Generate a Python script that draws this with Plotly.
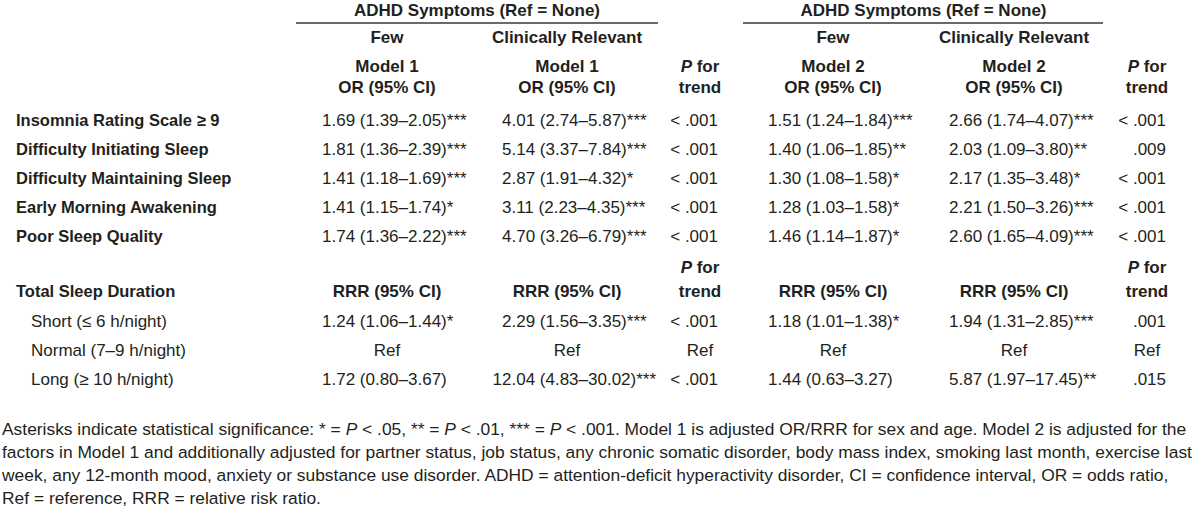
import plotly.graph_objects as go

# ---------------- data ----------------
group_title = "ADHD Symptoms (Ref = None)"
sub_groups = ["Few", "Clinically Relevant", "Few", "Clinically Relevant"]
models = ["Model 1", "Model 1", "Model 2", "Model 2"]
or_header = "OR (95% CI)"
rrr_header = "RRR (95% CI)"

symptom_labels = ["Insomnia Rating Scale ≥ 9", "Difficulty Initiating Sleep",
                  "Difficulty Maintaining Sleep", "Early Morning Awakening",
                  "Poor Sleep Quality"]
few_m1 = ["1.69 (1.39–2.05)***", "1.81 (1.36–2.39)***", "1.41 (1.18–1.69)***",
          "1.41 (1.15–1.74)*", "1.74 (1.36–2.22)***"]
cr_m1 = ["4.01 (2.74–5.87)***", "5.14 (3.37–7.84)***", "2.87 (1.91–4.32)*",
         "3.11 (2.23–4.35)***", "4.70 (3.26–6.79)***"]
p_m1 = ["< .001", "< .001", "< .001", "< .001", "< .001"]
few_m2 = ["1.51 (1.24–1.84)***", "1.40 (1.06–1.85)**", "1.30 (1.08–1.58)*",
          "1.28 (1.03–1.58)*", "1.46 (1.14–1.87)*"]
cr_m2 = ["2.66 (1.74–4.07)***", "2.03 (1.09–3.80)**", "2.17 (1.35–3.48)*",
         "2.21 (1.50–3.26)***", "2.60 (1.65–4.09)***"]
p_m2 = ["< .001", ".009", "< .001", "< .001", "< .001"]

duration_title = "Total Sleep Duration"
duration_labels = ["Short (≤ 6 h/night)", "Normal (7–9 h/night)", "Long (≥ 10 h/night)"]
dur_few_m1 = ["1.24 (1.06–1.44)*", "Ref", "1.72 (0.80–3.67)"]
dur_cr_m1 = ["2.29 (1.56–3.35)***", "Ref", "12.04 (4.83–30.02)***"]
dur_p_m1 = ["< .001", "Ref", "< .001"]
dur_few_m2 = ["1.18 (1.01–1.38)*", "Ref", "1.44 (0.63–3.27)"]
dur_cr_m2 = ["1.94 (1.31–2.85)***", "Ref", "5.87 (1.97–17.45)**"]
dur_p_m2 = [".001", "Ref", ".015"]

footnote_lines = [
    "Asterisks indicate statistical significance: * = <i>P</i> < .05, ** = <i>P</i> < .01, *** = <i>P</i> < .001. Model 1 is adjusted OR/RRR for sex and age. Model 2 is adjusted for the",
    "factors in Model 1 and additionally adjusted for partner status, job status, any chronic somatic disorder, body mass index, smoking last month, exercise last",
    "week, any 12-month mood, anxiety or substance use disorder. ADHD = attention-deficit hyperactivity disorder, CI = confidence interval, OR = odds ratio,",
    "Ref = reference, RRR = relative risk ratio.",
]

# ---------------- layout constants ----------------
W, H = 1200, 511
FONT = "Liberation Sans, Arial, sans-serif"
INK = "#231f20"
FS = 17
DIGIT_W = 9.45

col_centers = [387, 567, 833, 1014]
p_centers = [700, 1147]
p_rights = [718, 1166]
label_x = 16
indent_x = 31

y_group, y_sub, y_model, y_or = 12, 39, 68, 89
y_rows = [122, 151, 180, 209, 238]
y_pfor2, y_dur = 269, 293
y_dur_rows = [323, 352, 381]
y_foot = [431, 454, 477, 500]

fig = go.Figure()


def add_text(xs, ys, texts, positions, bold=False, size=FS):
    fig.add_trace(go.Scatter(
        x=xs, y=ys, text=texts, mode="text", textposition=positions,
        textfont=dict(family=FONT, size=size, color=INK,
                      weight="bold" if bold else "normal"),
        hoverinfo="skip", showlegend=False, cliponaxis=False))


# header: group titles
add_text([sum(col_centers[0:2]) / 2 - 0, sum(col_centers[2:4]) / 2], [y_group, y_group],
         [group_title, group_title], "middle center", bold=True)
# sub groups, models, OR header
add_text(col_centers, [y_sub] * 4, sub_groups, "middle center", bold=True)
add_text(col_centers, [y_model] * 4, models, "middle center", bold=True)
add_text(col_centers, [y_or] * 4, [or_header] * 4, "middle center", bold=True)
# P for trend headers
for yy_p, yy_t in [(y_model, y_or), (y_pfor2, y_dur)]:
    add_text(p_centers, [yy_p] * 2, ["<i>P</i> for"] * 2, "middle center", bold=True)
    add_text(p_centers, [yy_t] * 2, ["trend"] * 2, "middle center", bold=True)

# row labels
add_text([label_x] * len(symptom_labels), y_rows, symptom_labels, "middle right", bold=True, size=16.5)
add_text([label_x], [y_dur], [duration_title], "middle right", bold=True, size=16.5)
add_text([indent_x] * len(duration_labels), y_dur_rows, duration_labels, "middle right")
add_text(col_centers, [y_dur] * 4, [rrr_header] * 4, "middle center", bold=True)


def value_column(center, values, ys):
    xs, pos = [], []
    for v in values:
        if v == "Ref":
            xs.append(center)
            pos.append("middle center")
        else:
            int_digits = len(v.split(".")[0])
            xs.append(center - 65 - (int_digits - 1) * DIGIT_W)
            pos.append("middle right")
    add_text(xs, ys, values, pos)


def p_column(center, right, values, ys):
    xs, pos = [], []
    for v in values:
        if v == "Ref":
            xs.append(center)
            pos.append("middle center")
        else:
            xs.append(right)
            pos.append("middle left")
    add_text(xs, ys, values, pos)


for c, vals in zip(col_centers, [few_m1, cr_m1, few_m2, cr_m2]):
    value_column(c, vals, y_rows)
for c, vals in zip(col_centers, [dur_few_m1, dur_cr_m1, dur_few_m2, dur_cr_m2]):
    value_column(c, vals, y_dur_rows)
p_column(p_centers[0], p_rights[0], p_m1, y_rows)
p_column(p_centers[1], p_rights[1], p_m2, y_rows)
p_column(p_centers[0], p_rights[0], dur_p_m1, y_dur_rows)
p_column(p_centers[1], p_rights[1], dur_p_m2, y_dur_rows)

# footnote
add_text([2] * len(footnote_lines), y_foot, footnote_lines, "middle right", size=17.4)

# rules under group titles
for x0, x1 in [(296, 658), (743, 1103)]:
    fig.add_shape(type="line", x0=x0, x1=x1, y0=23, y1=23, xref="x", yref="y",
                  line=dict(color="#3a3a3a", width=1.5))

fig.update_layout(
    width=W, height=H, margin=dict(l=0, r=0, t=0, b=0),
    paper_bgcolor="white", plot_bgcolor="white",
    xaxis=dict(range=[0, W], visible=False, fixedrange=True),
    yaxis=dict(range=[H, 0], visible=False, fixedrange=True),
)

fig.write_html(
    "out.html",
    config={"displayModeBar": False},
    post_script="document.body.style.margin='0';document.body.style.overflow='hidden';",
)
